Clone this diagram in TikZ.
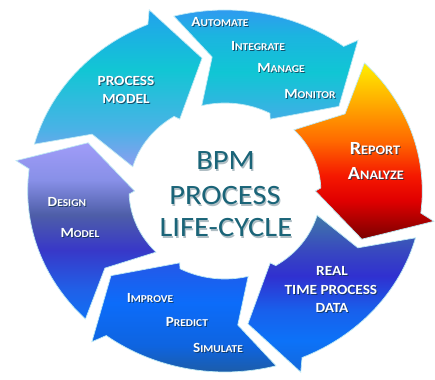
\documentclass[tikz,border=0pt]{standalone}
\usepackage{fontspec}
\newfontfamily\carlito{Carlito}
% colours
\definecolor{pmA}{HTML}{8C9EF0}\definecolor{pmB}{HTML}{4AB2E6}\definecolor{pmC}{HTML}{12C6D4}\definecolor{pmD}{HTML}{22A2EC}
\definecolor{auA}{HTML}{40AEE6}\definecolor{auB}{HTML}{10C6D4}\definecolor{auC}{HTML}{1CB4E0}\definecolor{auD}{HTML}{3592F5}
\definecolor{reA}{HTML}{7A0000}\definecolor{reB}{HTML}{E00000}\definecolor{reC}{HTML}{F51800}\definecolor{reD}{HTML}{FF6A00}\definecolor{reE}{HTML}{FFB000}\definecolor{reF}{HTML}{FFEE00}
\definecolor{rtA}{HTML}{1468DC}\definecolor{rtB}{HTML}{0C72F8}\definecolor{rtC}{HTML}{1860EC}\definecolor{rtD}{HTML}{3030D0}\definecolor{rtE}{HTML}{3848C0}\definecolor{rtF}{HTML}{4078A8}
\definecolor{imA}{HTML}{205A98}\definecolor{imB}{HTML}{0E64E0}\definecolor{imC}{HTML}{0C6CFA}\definecolor{imD}{HTML}{2458E8}
\definecolor{deA}{HTML}{1070F5}\definecolor{deB}{HTML}{2060E8}\definecolor{deC}{HTML}{3838C8}\definecolor{deD}{HTML}{4E5EA8}\definecolor{deE}{HTML}{8890E8}\definecolor{deF}{HTML}{A09CF8}
\definecolor{edgec}{HTML}{BEEAF4}
\definecolor{ctrc}{HTML}{1A6478}
\definecolor{ctrsh}{HTML}{B0BEC4}
\definecolor{lblsh}{HTML}{10304A}
% shadings (0bp = bottom, path box = 25bp..75bp)
\pgfdeclareverticalshading{pmshade}{100bp}{color(0bp)=(pmA); color(25bp)=(pmA); color(37bp)=(pmB); color(56bp)=(pmC); color(75bp)=(pmD); color(100bp)=(pmD)}
\pgfdeclareverticalshading{aushade}{100bp}{color(0bp)=(auA); color(25bp)=(auA); color(45bp)=(auB); color(61bp)=(auC); color(75bp)=(auD); color(100bp)=(auD)}
\pgfdeclareverticalshading{reshade}{100bp}{color(0bp)=(reA); color(25bp)=(reA); color(36bp)=(reB); color(43bp)=(reC); color(53bp)=(reD); color(64.5bp)=(reE); color(75bp)=(reF); color(100bp)=(reF)}
\pgfdeclareverticalshading{rtshade}{100bp}{color(0bp)=(rtA); color(25bp)=(rtA); color(35bp)=(rtB); color(44.6bp)=(rtC); color(55.7bp)=(rtD); color(63.6bp)=(rtE); color(75bp)=(rtF); color(100bp)=(rtF)}
\pgfdeclareverticalshading{imshade}{100bp}{color(0bp)=(imA); color(25bp)=(imA); color(39.7bp)=(imB); color(58bp)=(imC); color(75bp)=(imD); color(100bp)=(imD)}
\pgfdeclareverticalshading{deshade}{100bp}{color(0bp)=(deA); color(25bp)=(deA); color(33.2bp)=(deB); color(44.6bp)=(deC); color(54.6bp)=(deD); color(64.5bp)=(deE); color(75bp)=(deF); color(100bp)=(deF)}
% one ring arrow: #1 tail angle, #2 shading
\newcommand\bpmarrow[2]{%
  \pgfmathsetmacro\tA{#1}%
  \pgfmathsetmacro\tB{#1-52}%
  \pgfmathsetmacro\tC{#1-54}%
  \pgfmathsetmacro\tD{#1-66}%
  \pgfmathsetmacro\tE{#1-45}%
  \pgfmathsetmacro\tF{#1-43}%
  \pgfmathsetmacro\tG{#1-1}%
  \pgfmathsetmacro\tH{#1-10}%
  \shadedraw[shading=#2, arrowedge] (\tA:181) arc[start angle=\tA, end angle=\tB, radius=181]
    -- (\tC:194) -- (\tD:134.5) -- (\tE:83) -- (\tF:88)
    arc[start angle=\tF, end angle=\tG, radius=88] -- (\tH:134.5) -- cycle;}
% fake small caps
\newcommand\Smc[2]{{\fontsize{14}{16}\selectfont #1}{\fontsize{10.5}{12}\selectfont #2}}
\newcommand\SmcL[2]{{\fontsize{18.5}{20}\selectfont #1}{\fontsize{13}{15}\selectfont #2}}
\newcommand\shlabel[3]{%
  \node[lbl, text=lblsh, opacity=0.75, xshift=0.9pt, yshift=-0.9pt] (#1s) at (#2) {#3};
  \node[lbl] (#1) at (#2) {#3};}
\begin{document}
\begin{tikzpicture}[x=1pt, y=1pt, xscale=1.09,
  arrowedge/.style={draw=edgec, line width=0.7pt, line join=miter},
  lbl/.style={font=\carlito\bfseries\fontsize{14}{16}\selectfont, text=white, transform shape, inner sep=0pt, anchor=base},
  ctr/.style={font=\carlito\fontsize{28}{32}\selectfont, text=ctrc, transform shape, inner sep=0pt, anchor=base},
  ctrshadow/.style={ctr, text=ctrsh, xshift=1pt, yshift=-1.2pt}]
\useasboundingbox (-206.4,-189) rectangle (192.7,191);
\fill[white] (-206.4,-189) rectangle (192.7,191);
% six arrows of the cycle
\bpmarrow{165}{pmshade}
\bpmarrow{105}{aushade}
\bpmarrow{45}{reshade}
\bpmarrow{-15}{rtshade}
\bpmarrow{-75}{imshade}
\bpmarrow{-135}{deshade}
% labels
\shlabel{automate}{-4.6,164}{\Smc{A}{UTOMATE}}
\shlabel{integrate}{30.3,140}{\Smc{I}{NTEGRATE}}
\shlabel{manage}{51.4,118}{\Smc{M}{ANAGE}}
\shlabel{monitor}{78,92}{\Smc{M}{ONITOR}}
\shlabel{pmA}{-90.8,105}{PROCESS}
\shlabel{pmB}{-90.8,87}{MODEL}
\shlabel{report}{137.6,36}{\SmcL{R}{EPORT}}
\shlabel{analyze}{138.5,11}{\SmcL{A}{NALYZE}}
\shlabel{design}{-145,-16}{\Smc{D}{ESIGN}}
\shlabel{dmodel}{-133,-47}{\Smc{M}{ODEL}}
\shlabel{real}{98.2,-85}{REAL}
\shlabel{timeproc}{97.2,-104}{TIME PROCESS}
\shlabel{data}{98.2,-122}{DATA}
\shlabel{improve}{-68.8,-112}{\Smc{I}{MPROVE}}
\shlabel{predict}{-34.9,-136}{\Smc{P}{REDICT}}
\shlabel{simulate}{-6.4,-162}{\Smc{S}{IMULATE}}
% centre title
\node[ctrshadow] (bpms) at (0.5,21) {BPM};
\node[ctr] (bpm) at (0.5,21) {BPM};
\node[ctrshadow] (procs) at (0,-14) {PROCESS};
\node[ctr] (proc) at (0,-14) {PROCESS};
\node[ctrshadow] (lifes) at (0.9,-46) {LIFE-CYCLE};
\node[ctr] (life) at (0.9,-46) {LIFE-CYCLE};
\end{tikzpicture}
\end{document}
